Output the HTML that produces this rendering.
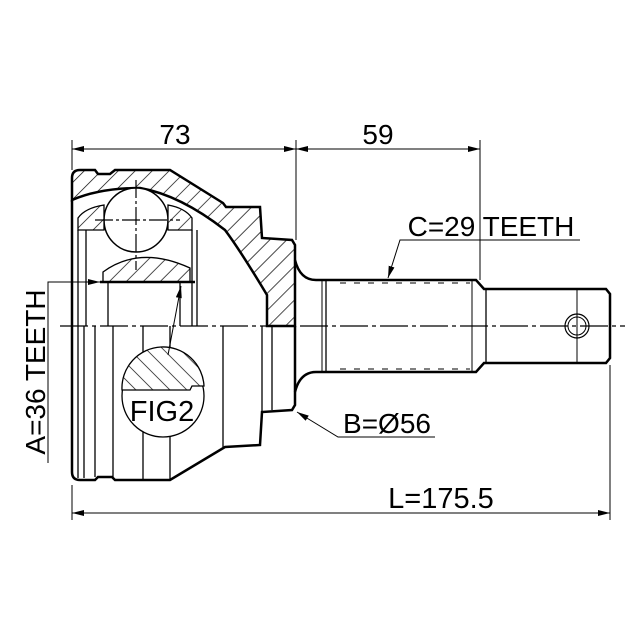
<!DOCTYPE html>
<html><head><style>html,body{margin:0;padding:0;background:#fff}svg{display:block}text{font-family:"Liberation Sans",sans-serif;fill:#000}</style></head>
<body>
<svg width="640" height="640" viewBox="0 0 640 640" xmlns="http://www.w3.org/2000/svg">
<defs>
<pattern id="h" patternUnits="userSpaceOnUse" width="12" height="12" patternTransform="rotate(45)">
<rect width="12" height="12" fill="#fff"/><line x1="0" y1="0" x2="0" y2="12" stroke="#000" stroke-width="1.4"/></pattern>
<pattern id="h2" patternUnits="userSpaceOnUse" width="12" height="12" patternTransform="rotate(-45)">
<rect width="12" height="12" fill="#fff"/><line x1="0" y1="0" x2="0" y2="12" stroke="#000" stroke-width="1.4"/></pattern>
<marker id="a" viewBox="0 0 12 6" refX="12" refY="3" markerWidth="12" markerHeight="6" orient="auto-start-reverse" markerUnits="userSpaceOnUse"><path d="M0,0L12,3L0,6z" fill="#000"/></marker>
</defs>
<g fill="none" stroke="#000">
<path d="M72,200 L72,178 Q72,170 80,170 L95,170 L98,174 L110,174 L115,170 L170,170 L223,203 L226,207 L260,207 L262,238 L292,240 L295,245 L295,326 L267,326 L267,295 Q240,250 225,230 Q180,195 140,188 Q100,188 72,200 Z" fill="url(#h)" stroke-width="2.5"/>
<path d="M72,326 L72,472 Q72,480 80,480 L95,480 L98,477 L112,477 L115,480 L170,480 L225,447 L260,445 L262,412 L292,410 L295,405 L295,326" stroke-width="2.5"/>
<line x1="72" y1="200" x2="72" y2="326" stroke-width="2.5"/>
<circle cx="136" cy="220" r="32" fill="#fff" stroke-width="1.5"/>
<path d="M78,230 L78,218 Q85,208 104,205 L104,230 Z" fill="url(#h)" stroke-width="1.3"/>
<path d="M168,205 Q185,208 192,218 L192,230 L168,230 Z" fill="url(#h)" stroke-width="1.3"/>
<line x1="78" y1="230" x2="78" y2="326" stroke-width="1.3"/>
<line x1="86" y1="230" x2="86" y2="326" stroke-width="1.3"/>
<line x1="192" y1="230" x2="192" y2="326" stroke-width="1.3"/>
<line x1="197" y1="230" x2="197" y2="326" stroke-width="1.3"/>
<line x1="108" y1="282" x2="108" y2="326" stroke-width="1.3"/>
<line x1="180" y1="282" x2="180" y2="326" stroke-width="1.3"/>
<path d="M103,282 L103,272 Q140,245 190,268 L190,282 Z" fill="url(#h)" stroke-width="1.3"/>
<line x1="100" y1="282" x2="195" y2="282" stroke-width="2.5"/>
<g stroke-width="1.3">
<line x1="78" y1="326" x2="78" y2="478"/><line x1="84" y1="326" x2="84" y2="478"/>
<line x1="95" y1="326" x2="95" y2="477"/><line x1="113" y1="326" x2="113" y2="477"/>
<line x1="143" y1="326" x2="143" y2="480"/><line x1="170" y1="326" x2="170" y2="480"/>
<line x1="223" y1="326" x2="223" y2="447"/><line x1="262" y1="326" x2="262" y2="412"/>
<line x1="272" y1="326" x2="272" y2="410"/>
</g>
<line x1="136" y1="180" x2="136" y2="270" stroke-width="1.2" stroke-dasharray="18,3,3,3"/>
<line x1="95" y1="220" x2="180" y2="220" stroke-width="1.2" stroke-dasharray="18,3,3,3"/>
<path d="M295,260 Q300,280 316,280 L476,280 L484,289 L606,289 L610,294 L610,358 L606,363 L484,363 L476,372 L316,372 Q300,372 295,392" stroke-width="2.5"/>
<line x1="326" y1="280" x2="326" y2="372" stroke-width="1.3"/>
<line x1="322" y1="280" x2="322" y2="372" stroke-width="1"/>
<line x1="472" y1="280" x2="472" y2="372" stroke-width="1"/>
<line x1="486" y1="289" x2="486" y2="363" stroke-width="1.3"/>
<line x1="577" y1="289" x2="577" y2="363" stroke-width="1"/>
<circle cx="577" cy="326" r="12" stroke-width="1.2"/><circle cx="577" cy="326" r="9" stroke-width="1"/>
<line x1="340" y1="283" x2="470" y2="283" stroke-width="1" stroke-dasharray="6,8"/>
<line x1="340" y1="369" x2="470" y2="369" stroke-width="1" stroke-dasharray="6,8"/>
<line x1="60" y1="326" x2="625" y2="326" stroke-width="1.2" stroke-dasharray="28,4,4,4"/>
<circle cx="163" cy="396" r="41" fill="#fff" stroke-width="1.3"/>
<path d="M122,390 L190,390 L192,386 L204,386 A41,41 0 0 0 122,390 Z" fill="url(#h2)" stroke-width="1.3"/>
<line x1="168" y1="355" x2="181" y2="286" stroke-width="1" marker-end="url(#a)"/>
<g stroke-width="1">
<line x1="72" y1="140" x2="72" y2="170"/><line x1="296" y1="140" x2="296" y2="240"/><line x1="480" y1="140" x2="480" y2="280"/>
<line x1="72" y1="149" x2="296" y2="149" marker-start="url(#a)" marker-end="url(#a)"/>
<line x1="296" y1="149" x2="480" y2="149" marker-start="url(#a)" marker-end="url(#a)"/>
<line x1="72" y1="485" x2="72" y2="520"/><line x1="610" y1="365" x2="610" y2="520"/>
<line x1="72" y1="513" x2="610" y2="513" marker-start="url(#a)" marker-end="url(#a)"/>
<polyline points="48,463 48,282 100,282" marker-end="url(#a)"/>
<polyline points="580,240 400,240 388,278" marker-end="url(#a)"/>
<polyline points="435,437 338,437 297,412" marker-end="url(#a)"/>
</g>
</g>
<text x="175" y="144" font-size="28" text-anchor="middle">73</text>
<text x="378" y="144" font-size="28" text-anchor="middle">59</text>
<text x="491" y="236" font-size="28" text-anchor="middle">C=29 TEETH</text>
<text x="387" y="433" font-size="28" text-anchor="middle">B=Ø56</text>
<text x="441" y="508" font-size="29" text-anchor="middle">L=175.5</text>
<text x="162" y="421" font-size="29" text-anchor="middle">FIG2</text>
<text transform="translate(45,372) rotate(-90)" font-size="28" text-anchor="middle">A=36 TEETH</text>
</svg>
</body></html>
